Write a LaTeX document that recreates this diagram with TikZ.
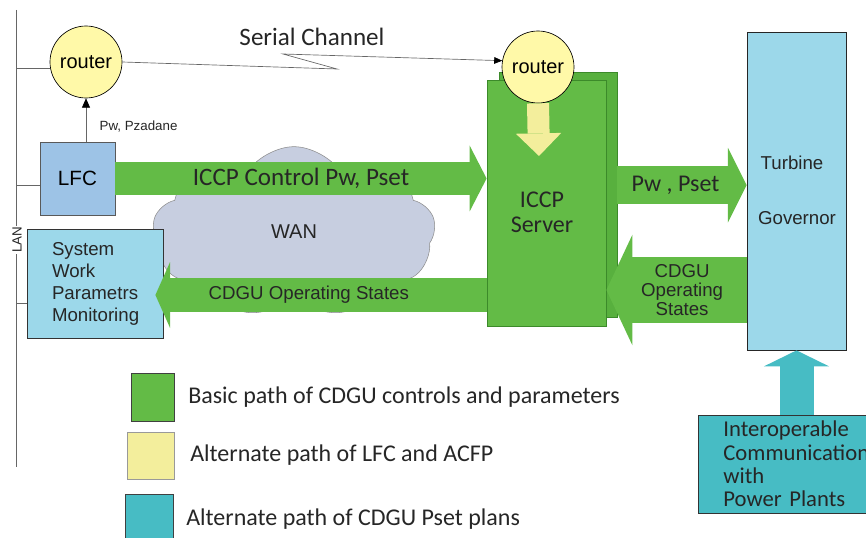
\documentclass[tikz,border=0pt]{standalone}
\usepackage{fontspec}
\setmainfont{Liberation Sans}
\newfontfamily\calfont{Carlito}
\usetikzlibrary{arrows.meta,shapes.symbols}

\definecolor{cdgugreen}{HTML}{63BB46}
\definecolor{cdguback}{HTML}{58B03E}
\definecolor{cdgudark}{HTML}{3C8A2A}
\definecolor{lfcblue}{HTML}{9DC3E6}
\definecolor{govblue}{HTML}{9CD8EA}
\definecolor{routeryellow}{HTML}{FFF9A8}
\definecolor{altyellow}{HTML}{F3EE9C}
\definecolor{plantteal}{HTML}{47BCC4}
\definecolor{wangray}{HTML}{C7CEE0}

\begin{document}
\begin{tikzpicture}[x=0.75pt,y=-0.75pt,
    router/.style={circle, draw=black, line width=0.5pt, fill=routeryellow,
      minimum size=54pt, inner sep=0pt, font=\fontsize{15}{15}\selectfont},
    blk/.style={rectangle, draw=#1, line width=0.6pt, inner sep=0pt},
    fat/.style n args={4}{draw=#1, line width=#2,
      -{Triangle[width=#3,length=#4,line width=0pt]}},
    wire/.style={draw=black!60, line width=0.5pt},
    lbl/.style={text=black!85, inner sep=0pt}]
  \useasboundingbox (0,0) rectangle (866,538);
  \clip (0,0) rectangle (866,538);

  % LAN bus
  \coordinate (lan_t) at (16,10);
  \coordinate (lan_b) at (16,467);
  \draw[wire] (lan_t) -- (lan_b);
  \node[lbl, rotate=90, fill=white, inner sep=1pt,
    font=\fontsize{10}{10}\selectfont] (lan) at (17,240) {LAN};

  % WAN
  \node[cloud, cloud puffs=9, cloud puff arc=115, aspect=1.7, draw=black!45,
    fill=wangray, minimum width=212pt, minimum height=128pt, inner sep=0pt,
    text=black!85, font=\fontsize{15}{15}\selectfont] (wan) at (294,232) {WAN};

  \node[router] (router_1) at (86,62) {router};
  \node[blk=black!65, fill=lfcblue, minimum width=56.25pt, minimum height=54.75pt,
    font=\fontsize{15.5}{15.5}\selectfont] (lfc) at (77.5,178.5) {LFC};
  \node[blk=black!80, fill=govblue, text width=64.5pt, inner xsep=18.75pt,
    minimum height=81.75pt, align=left, text=black!85,
    font=\fontsize{14}{16.5}\selectfont] (sys) at (95,283.5)
    {System\\Work\\Parametrs\\Monitoring};

  % ICCP server
  \node[blk=cdgudark, fill=cdguback, minimum width=88.5pt, minimum height=183.75pt]
    (iccp_b) at (558,194.5) {};
  \node[blk=cdgudark, fill=cdgugreen, minimum width=89.25pt, minimum height=184.5pt]
    (iccp) at (546.5,203) {};
  \node[lbl, align=center, font=\calfont\fontsize{18}{18.75}\selectfont]
    (iccp_txt) at (542,212.5) {ICCP\\Server};
  \node[router] (router_2) at (538,67) {router};

  \node[blk=black!85, fill=govblue, minimum width=74.25pt, minimum height=238.5pt]
    (turbine) at (796.5,191) {};
  \node[lbl, font=\fontsize{14}{14}\selectfont] (turb_txt) at (792,163) {Turbine};
  \node[lbl, font=\fontsize{14}{14}\selectfont] (gov_txt) at (797,218) {Governor};

  \node[blk=black!80, fill=plantteal, anchor=west, text width=115pt,
    inner xsep=18.75pt, minimum height=73.5pt, align=left, text=black!85,
    font=\calfont\fontsize{17}{17.4}\selectfont] (plants) at (698,464)
    {Interoperable\\Communication\\with\\Power Plants};

  \node[lbl, font=\calfont\fontsize{18.8}{18.8}\selectfont] (serial) at (312,37)
    {Serial Channel};

  % legend
  \node[blk=black!75, fill=cdgugreen, minimum width=32.25pt, minimum height=36pt]
    (key_1) at (152.5,397) {};
  \node[blk=black!40, fill=altyellow, minimum width=35.25pt, minimum height=35.25pt]
    (key_2) at (150.5,455.5) {};
  \node[blk=black!75, fill=plantteal, minimum width=36pt, minimum height=38.25pt]
    (key_3) at (149,519.5) {};
  \node[lbl, anchor=west, font=\calfont\fontsize{18}{18}\selectfont] (key_1_txt)
    at (188,397) {Basic path of CDGU controls and parameters};
  \node[lbl, anchor=west, font=\calfont\fontsize{18}{18}\selectfont] (key_2_txt)
    at (190,455) {Alternate path of LFC and ACFP};
  \node[lbl, anchor=west, font=\calfont\fontsize{18}{18}\selectfont] (key_3_txt)
    at (186,519) {Alternate path of CDGU Pset plans};

  \coordinate (lan_1) at ([yshift=-5pt]lfc.west);
  \coordinate (lan_2) at ([yshift=-15pt]sys.west);
  \coordinate (zz_1) at (337,69);
  \coordinate (zz_2) at (283,54);
  \coordinate (y_tip) at (539,156);
  \coordinate (pset) at ([yshift=7pt]iccp_b.east);
  \coordinate (cdgu_r) at (700,290);
  \coordinate (cdgu_l) at (300,295);

  \draw[wire, -{Triangle[width=5pt,length=6pt,black]}]
    (router_1.east) -- (zz_1) -- (zz_2) -- (router_2.170);

  \path
    (router_1.190 -| lan_t) edge[wire] (router_1.190)
    (lan_1 -| lan_t) edge[wire] (lan_1)
    (lan_2 -| lan_t) edge[wire] (lan_2)
    (router_1.south |- lfc.north) edge[wire, -{Triangle[width=6pt,length=7pt,black]}]
      node[lbl, pos=0.34, right=10pt, font=\fontsize{10}{10}\selectfont] {Pw, Pzadane}
      (router_1.south)
    (lfc.east) edge[fat={cdgugreen}{24.75pt}{49.5pt}{12.75pt}]
      node[lbl, pos=0.5, font=\calfont\fontsize{18.8}{18.8}\selectfont] {ICCP Control Pw, Pset}
      (lfc.east -| iccp.west)
    (cdgu_l -| iccp.west) edge[fat={cdgugreen}{25.5pt}{49.5pt}{11pt}, shorten >=-6pt]
      node[lbl, pos=0.55, font=\fontsize{14}{14}\selectfont] {CDGU Operating States}
      (cdgu_l -| sys.east)
    (pset) edge[fat={cdgugreen}{28pt}{56pt}{14pt}]
      node[lbl, pos=0.45, font=\calfont\fontsize{18}{18}\selectfont] {Pw , Pset}
      (pset -| turbine.west)
    (cdgu_r -| turbine.west) edge[fat={cdgugreen}{50pt}{83pt}{19.5pt}]
      node[lbl, pos=0.46, align=center, font=\fontsize{14}{14.5}\selectfont]
        {CDGU\\Operating\\States}
      (cdgu_r -| iccp.east)
    (router_2.south) edge[fat={altyellow}{16.5pt}{34pt}{17pt}] (y_tip)
    (turbine.south |- plants.north) edge[fat={plantteal}{25.5pt}{49pt}{12pt}]
      (turbine.south);
\end{tikzpicture}
\end{document}
